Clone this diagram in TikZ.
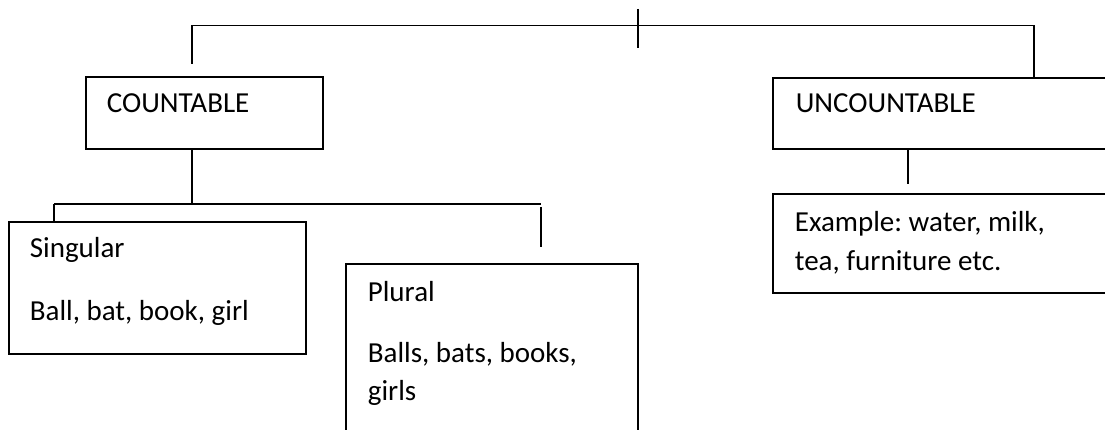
\documentclass[tikz,border=0pt]{standalone}
\usepackage{fontspec}
\setmainfont{Carlito}
\frenchspacing
\begin{document}
\begin{tikzpicture}[x=1pt,y=-1pt,line width=1.7pt,
  box/.style={draw,line width=1.7pt,rectangle,inner sep=0pt,anchor=north west},
  txt/.style={anchor=base west,inner sep=0pt,font=\fontsize{29}{35}\selectfont}]
\useasboundingbox (0,0) rectangle (1105,430);
\clip (0,0) rectangle (1105,430);
% boxes
\node[box,minimum width=237pt,minimum height=72pt] (count) at (85,76) {};
\node[box,minimum width=400pt,minimum height=71pt] (uncount) at (772,77) {};
\node[box,minimum width=297pt,minimum height=132pt] (sing) at (8,221) {};
\node[box,minimum width=292pt,minimum height=250pt] (plural) at (345,263) {};
\node[box,minimum width=400pt,minimum height=99pt] (ex) at (772,193) {};
% texts
\node[txt] (countT) at (106,113) {COUNTABLE};
\node[txt] (uncountT) at (795,113) {UNCOUNTABLE};
\node[txt] (singT1) at (29,258) {Singular};
\node[txt] (singT2) at (29,320) {Ball, bat, book, girl};
\node[txt] (plT1) at (367,301) {Plural};
\node[txt] (plT2) at (367,362) {Balls, bats, books,};
\node[txt] (plT3) at (367,400) {girls};
\node[txt] (exT1) at (794,232) {Example: water, milk,};
\node[txt] (exT2) at (794,270) {tea, furniture etc.};
% junction coordinates
\coordinate (tl) at (192,25.5);
\coordinate (tr) at (1034,25.5);
\coordinate (ttop) at (638,9);
\coordinate (tbot) at (638,48);
\coordinate (lend) at (192,64);
\coordinate (cj) at (192,204);
\coordinate (sl) at (54,204);
\coordinate (sr) at (541,204);
\coordinate (pa) at (541,207);
\coordinate (pb) at (541,247);
\coordinate (uj) at (908,184);
% connectors
\draw (tl) -- (tr) -- (tr |- uncount.north);
\draw (ttop) -- (tbot);
\draw (tl) -- (lend);
\draw (cj |- count.south) -- (cj);
\draw (sl) -- (sr);
\draw (sl) -- (sl |- sing.north);
\draw (pa) -- (pb);
\draw (uj |- uncount.south) -- (uj);
\end{tikzpicture}
\end{document}
